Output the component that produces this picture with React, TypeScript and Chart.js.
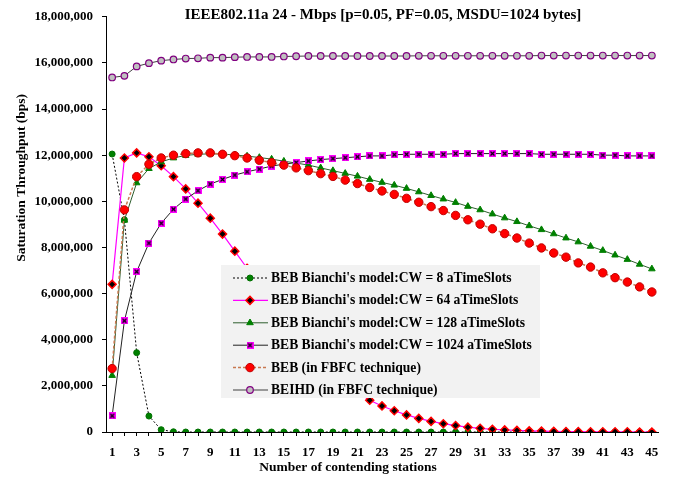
import React, { useEffect, useRef } from 'react';
import { Chart, registerables } from 'chart.js';
import { drawPoint } from 'chart.js/helpers';

Chart.register(...registerables);

const chartTitle = 'IEEE802.11a 24 - Mbps [p=0.05, PF=0.05, MSDU=1024 bytes]';
const xTitle = 'Number of contending stations';
const yTitle = 'Saturation Throughput (bps)';

const stations = ['1', '2', '3', '4', '5', '6', '7', '8', '9', '10', '11', '12', '13', '14', '15', '16', '17', '18', '19', '20', '21', '22', '23', '24', '25', '26', '27', '28', '29', '30', '31', '32', '33', '34', '35', '36', '37', '38', '39', '40', '41', '42', '43', '44', '45'];

const yMin = 0;
const yMax = 18000000;
const yStep = 2000000;

const seriesNames = [
  "BEB Bianchi's model:CW = 8 aTimeSlots",
  "BEB Bianchi's model:CW = 64 aTimeSlots",
  "BEB Bianchi's model:CW = 128 aTimeSlots",
  "BEB Bianchi's model:CW = 1024 aTimeSlots",
  'BEB (in FBFC technique)',
  'BEIHD (in FBFC technique)',
];

const cw8 = [12050000, 9200000, 3440000, 690000, 100000, 10000, 0, 0, 0, 0, 0, 0, 0, 0, 0, 0, 0, 0, 0, 0, 0, 0, 0, 0, 0, 0, 0, 0, 0, 0, 0, 0, 0, 0, 0, 0, 0, 0, 0, 0, 0, 0, 0, 0, 0];

const cw64 = [6400000, 11880000, 12100000, 11930000, 11540000, 11070000, 10540000, 9920000, 9270000, 8580000, 7840000, 7100000, 6360000, 5640000, 4940000, 4280000, 3660000, 3090000, 2570000, 2110000, 1710000, 1380000, 1130000, 920000, 740000, 590000, 460000, 360000, 280000, 210000, 160000, 120000, 90000, 70000, 50000, 40000, 30000, 20000, 20000, 10000, 10000, 10000, 10000, 0, 0];

const cw128 = [2450000, 9180000, 10800000, 11420000, 11710000, 11880000, 11990000, 12040000, 12060000, 12050000, 12010000, 11960000, 11900000, 11830000, 11740000, 11660000, 11570000, 11450000, 11330000, 11210000, 11090000, 10950000, 10820000, 10700000, 10560000, 10410000, 10250000, 10100000, 9950000, 9780000, 9630000, 9450000, 9280000, 9120000, 8940000, 8770000, 8590000, 8410000, 8240000, 8050000, 7870000, 7670000, 7480000, 7270000, 7070000];

const cw1024 = [700000, 4820000, 6950000, 8190000, 9050000, 9660000, 10100000, 10460000, 10750000, 10950000, 11140000, 11280000, 11400000, 11530000, 11610000, 11680000, 11750000, 11810000, 11850000, 11890000, 11930000, 11970000, 11970000, 12020000, 12040000, 12040000, 12040000, 12040000, 12070000, 12070000, 12070000, 12070000, 12070000, 12070000, 12070000, 12040000, 12040000, 12040000, 12040000, 12040000, 12000000, 12000000, 11970000, 11970000, 11970000];

const bebFbfc = [2750000, 9630000, 11070000, 11610000, 11880000, 12000000, 12070000, 12100000, 12100000, 12040000, 11980000, 11880000, 11780000, 11680000, 11570000, 11450000, 11330000, 11200000, 11080000, 10920000, 10770000, 10600000, 10450000, 10300000, 10130000, 9960000, 9770000, 9600000, 9390000, 9200000, 9010000, 8810000, 8600000, 8410000, 8190000, 7980000, 7760000, 7580000, 7330000, 7150000, 6900000, 6690000, 6500000, 6290000, 6070000];

const beihd = [15370000, 15440000, 15850000, 15990000, 16100000, 16150000, 16190000, 16200000, 16230000, 16230000, 16250000, 16260000, 16260000, 16260000, 16280000, 16290000, 16300000, 16300000, 16300000, 16300000, 16300000, 16300000, 16300000, 16300000, 16300000, 16310000, 16310000, 16310000, 16310000, 16310000, 16310000, 16310000, 16310000, 16310000, 16310000, 16320000, 16320000, 16320000, 16320000, 16320000, 16320000, 16320000, 16320000, 16320000, 16320000];

const FONT = "'Liberation Serif', 'Times New Roman', serif";

function makeSquareX(): HTMLCanvasElement {
  const c = document.createElement('canvas');
  c.width = 7;
  c.height = 7;
  const g = c.getContext('2d') as CanvasRenderingContext2D;
  g.fillStyle = '#FF00FF';
  g.fillRect(0, 0, 7, 7);
  g.strokeStyle = '#000000';
  g.lineWidth = 1.2;
  g.beginPath();
  g.moveTo(1.5, 1.5);
  g.lineTo(5.5, 5.5);
  g.moveTo(5.5, 1.5);
  g.lineTo(1.5, 5.5);
  g.stroke();
  return c;
}

const titlePlugin = {
  id: 'textTitles',
  afterDraw(chart: any) {
    const { ctx, chartArea } = chart;
    ctx.save();
    ctx.fillStyle = '#000';
    ctx.textAlign = 'center';
    ctx.textBaseline = 'middle';
    ctx.font = `bold 15px ${FONT}`;
    ctx.fillText(chartTitle, (chartArea.left + chartArea.right) / 2 + 1, 15);
    ctx.font = `bold 13.5px ${FONT}`;
    ctx.fillText(xTitle, chartArea.left + 242, 468);
    ctx.save();
    ctx.translate(22, chartArea.top + 161);
    ctx.rotate(-Math.PI / 2);
    ctx.fillText(yTitle, 0, 0);
    ctx.restore();
    ctx.restore();
  },
};

const boxLegendPlugin = {
  id: 'boxLegend',
  afterDatasetsDraw(chart: any) {
    const { ctx, chartArea } = chart;
    const x0 = chartArea.left + 115;
    const y0 = 265;
    const w = 319;
    const h = 133;
    ctx.save();
    ctx.fillStyle = '#F2F2F2';
    ctx.fillRect(x0, y0, w, h);
    chart.data.datasets.forEach((ds: any, i: number) => {
      const y = y0 + 13 + i * 22.4;
      ctx.save();
      ctx.strokeStyle = ds.borderColor;
      ctx.lineWidth = ds.borderWidth;
      ctx.setLineDash(ds.borderDash || []);
      ctx.beginPath();
      ctx.moveTo(x0 + 12, y);
      ctx.lineTo(x0 + 47, y);
      ctx.stroke();
      ctx.setLineDash([]);
      ctx.fillStyle = ds.pointBackgroundColor;
      ctx.strokeStyle = ds.pointBorderColor;
      ctx.lineWidth = ds.pointBorderWidth;
      drawPoint(ctx, { pointStyle: ds.pointStyle, radius: ds.pointRadius, borderWidth: ds.pointBorderWidth, rotation: 0 }, x0 + 29, y);
      ctx.restore();
      ctx.font = `bold 13.6px ${FONT}`;
      ctx.fillStyle = '#000';
      ctx.textAlign = 'left';
      ctx.textBaseline = 'middle';
      ctx.fillText(ds.label, x0 + 50, y + 0.5);
    });
    ctx.restore();
  },
};

export default function App() {
  const ref = useRef<HTMLCanvasElement | null>(null);

  useEffect(() => {
    if (!ref.current) return;
    const squareX = makeSquareX();
    const chart = new Chart(ref.current, {
      type: 'line',
      data: {
        labels: stations,
        datasets: [
          {
            label: seriesNames[0], data: cw8, borderColor: '#000000', borderWidth: 1, borderDash: [2, 2],
            pointStyle: 'circle', pointRadius: 3, pointBackgroundColor: '#008000', pointBorderColor: '#007000', pointBorderWidth: 1, order: 6,
          },
          {
            label: seriesNames[1], data: cw64, borderColor: '#FF00FF', borderWidth: 1.2,
            pointStyle: 'rectRot', pointRadius: 4, pointBackgroundColor: '#000000', pointBorderColor: '#FF0000', pointBorderWidth: 1.5, order: 5,
          },
          {
            label: seriesNames[2], data: cw128, borderColor: '#2E5E2E', borderWidth: 1,
            pointStyle: 'triangle', pointRadius: 3.8, pointBackgroundColor: '#008000', pointBorderColor: '#008000', pointBorderWidth: 1, order: 4,
          },
          {
            label: seriesNames[3], data: cw1024, borderColor: '#222222', borderWidth: 1,
            pointStyle: squareX, pointRadius: 3.5, pointBackgroundColor: '#FF00FF', pointBorderColor: '#000000', pointBorderWidth: 1, order: 3,
          },
          {
            label: seriesNames[4], data: bebFbfc, borderColor: '#C87850', borderWidth: 1.5, borderDash: [3, 2],
            pointStyle: 'circle', pointRadius: 4.2, pointBackgroundColor: '#FF0000', pointBorderColor: '#C00000', pointBorderWidth: 1, order: 2,
          },
          {
            label: seriesNames[5], data: beihd, borderColor: '#404040', borderWidth: 1,
            pointStyle: 'circle', pointRadius: 3.3, pointBackgroundColor: '#C0C0C0', pointBorderColor: '#800080', pointBorderWidth: 1.2, order: 1,
          },
        ] as any,
      },
      options: {
        responsive: false,
        animation: false,
        layout: { padding: { left: 0, right: 20, top: 14, bottom: 0 } },
        plugins: { legend: { display: false }, tooltip: { enabled: false }, title: { display: false } },
        elements: { line: { tension: 0 } },
        scales: {
          x: {
            type: 'category',
            offset: true,
            afterFit: (s: any) => { s.height = 50; },
            border: { color: '#000', width: 1 },
            grid: { drawOnChartArea: false, drawTicks: true, tickLength: 4, color: '#000', offset: false },
            ticks: {
              autoSkip: false, maxRotation: 0, minRotation: 0, padding: 9, color: '#000',
              font: { family: FONT, size: 13, weight: 'bold' },
              callback: function (this: any, val: any, idx: number) { return idx % 2 === 0 ? this.getLabelForValue(val) : ''; },
            },
            title: { display: false },
          },
          y: {
            min: yMin, max: yMax,
            afterFit: (s: any) => { s.width = 106; },
            border: { color: '#000', width: 1 },
            grid: { drawOnChartArea: false, drawTicks: true, tickLength: 4, color: '#000' },
            ticks: {
              stepSize: yStep, padding: 9, color: '#000',
              font: { family: FONT, size: 13, weight: 'bold' },
              callback: (v: any) => Number(v).toLocaleString('en-US'),
            },
            title: { display: false },
          },
        },
      } as any,
      plugins: [boxLegendPlugin, titlePlugin],
    });
    return () => chart.destroy();
  }, []);

  return (
    <div style={{ position: 'fixed', left: 0, top: 0, width: 678, height: 482, background: '#fff' }}>
      <canvas ref={ref} width={678} height={482} style={{ display: 'block' }} />
    </div>
  );
}
